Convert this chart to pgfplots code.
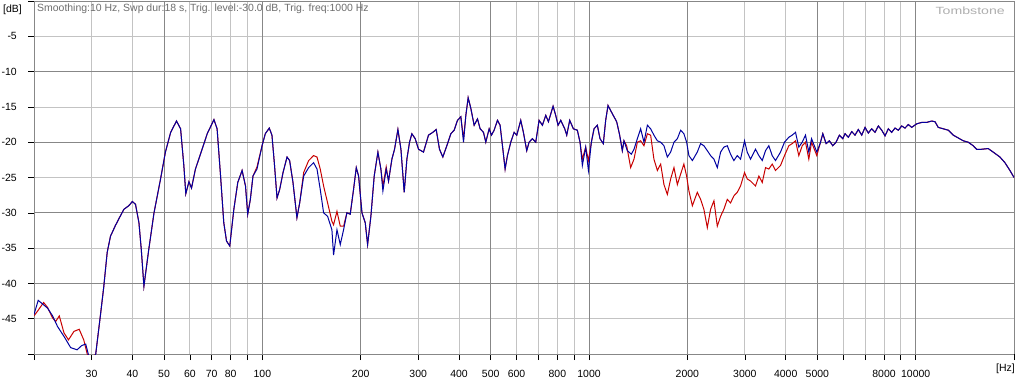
\documentclass[border=0pt]{standalone}
\usepackage{pgfplots}
\pgfplotsset{compat=1.18}
\usepackage{fontspec}
\setmainfont{Liberation Sans}
\definecolor{cred}{RGB}{200,0,0}
\definecolor{cblue}{RGB}{0,0,160}
\definecolor{gmaj}{RGB}{135,135,135}
\definecolor{gmin}{RGB}{195,195,195}
\begin{document}
\begin{tikzpicture}[x=1bp,y=1bp]
\useasboundingbox (0,0) rectangle (1016,385);
\fill[white] (0,0) rectangle (1016,385);
\begin{axis}[
  at={(34bp,31bp)}, anchor=south west,
  scale only axis, width=980bp, height=353bp,
  xmode=log, xmin=20, xmax=20000, ymin=-50, ymax=0,
  axis line style={black, line width=0.8bp},
  tick align=outside, xtick pos=bottom, ytick pos=left,
  major tick length=6bp,
  tick style={black, line width=0.6bp},
  grid=major,
  major grid style={gmin, line width=0.8bp},
  xtick={30,40,60,70,80,90,300,400,600,700,800,900,3000,4000,6000,7000,8000,9000},
  xticklabels={30,40,60,70,80,,300,400,600,,800,,3000,4000,,,8000,},
  extra x ticks={20,50,100,200,500,1000,2000,5000,10000,20000},
  extra x tick labels={,50,100,200,500,1000,2000,5000,10000,},
  extra x tick style={grid=major, major grid style={gmaj, line width=0.8bp}},
  ytick={-45,-35,-25,-15,-5},
  yticklabels={-45,-35,-25,-15,-5},
  extra y ticks={-50,-40,-30,-20,-10,0},
  extra y tick labels={,-40,-30,-20,-10,},
  extra y tick style={grid=major, major grid style={gmaj, line width=0.8bp}},
  xticklabel style={font=\fontsize{10.5}{12}\selectfont, anchor=base, inner sep=0pt, yshift=-17bp},
  yticklabel style={font=\fontsize{10.5}{12}\selectfont, anchor=east, inner sep=0pt, xshift=-11bp},
  clip=true,
]
\addplot[cred, line width=1bp] coordinates {
(20,-44.6)(20.6,-43.8)(21.4,-42.7)(22.0,-43.4)(22.8,-44.9)(23.3,-45.4)(23.9,-44.6)(24.7,-47)(25.5,-48)(26.5,-46.8)(27.5,-46.5)(28.4,-48)(29.1,-50)(29.6,-51)(30.9,-50)
(32.0,-44.2)(32.7,-40.5)(33.5,-35.6)(34.3,-33.3)(35.5,-31.8)(36.8,-30.4)(37.7,-29.5)(39.0,-29)(40.0,-28.4)(40.9,-28.8)(41.9,-31.4)(42.6,-35.2)(43.4,-40.4)(44.9,-35.2)(46.6,-30)(48.8,-25.2)(50.5,-21.4)(52.4,-18.6)(54.6,-17)(56.2,-18.1)(57.5,-23.3)(58.3,-27.3)(59.6,-25.6)(60.7,-26.5)(62.4,-23.8)(65.4,-21)(67.8,-18.8)(71.1,-16.8)(72.7,-18.1)(74.5,-24.8)(76.2,-31.4)(77.7,-34)(79.5,-34.7)(81.8,-29.5)(84.1,-25.7)(86.7,-24)(88.8,-26.2)(90.2,-30.2)(91.9,-28.1)(93.6,-24.8)(96.3,-23.5)(99.8,-20.5)(102.1,-18.8)(105.0,-18)(107.0,-19)(108.8,-22.9)(110.9,-27.9)(113.0,-26.7)(115.7,-24.3)(119.0,-22.1)(121.2,-22.6)(124.1,-25.7)(127.6,-30.7)
(130.1,-28.6)(133.8,-24.3)(138.6,-22.6)(143.5,-21.9)(147.0,-22.1)(150.4,-23.8)(154.0,-26.2)(158.4,-28.6)(163.3,-31.2)(165.2,-31.7)(169.2,-29.8)(173.2,-31.9)(177.3,-31.9)(181.5,-30)
(185.8,-30.2)(190.2,-26.7)(193.9,-23.6)(197.1,-24.8)(201.8,-30)(206.5,-31.4)(210.0,-34.5)(214.9,-30.5)(220.0,-24.8)(225.8,-21.4)(230.6,-23.8)(233.9,-26.2)(239.4,-23.5)(243.4,-25.5)(249.2,-22.4)(253.9,-21)(260.0,-18.2)(265.6,-21)(271.8,-27.1)(277.0,-22.4)(282.2,-20)(286.9,-18.8)(293.7,-19.5)(300.7,-21)(311.4,-21.4)(322.6,-19)(332.6,-18.6)(340.5,-18.2)(348.6,-21)(356.9,-22.1)(369,-20.2)(377.6,-18.8)(386.6,-18.3)(395.8,-16.9)(405.2,-16.4)(412.9,-19.5)(419.7,-16.2)(426.6,-13.7)(434.7,-15.2)(445,-17.6)(455.6,-16.7)(464.2,-18.1)(475.2,-18.6)(483.1,-20)(494.6,-18.1)(502.8,-19)(512.3,-18.3)(524.5,-16.9)(534.3,-17.6)(543.3,-20.5)(553.5,-23.8)(562.7,-21.9)(576.1,-20)(589.8,-18.6)(601,-19)(618,-16.9)(629.7,-18.6)(644.7,-21.2)(655.4,-20)(671,-19.5)(687,-20)(703.4,-16.9)(720.1,-17.6)(737.3,-16.2)(751.3,-17.1)(776.2,-14.9)(790.9,-16.2)(803.9,-17.6)(819.3,-16.9)(842.6,-18.1)(854.6,-19)(872.8,-16.9)(895.6,-18.1)(921,-18.3)(938.6,-20)(954.1,-22.4)(976.8,-20.7)(995.8,-22.6)(1016.7,-20)(1036,-18.1)(1060.5,-17.6)(1080.5,-19.5)(1106,-20.2)(1124.6,-16.9)(1143.2,-14.8)(1170.4,-15.7)(1192.6,-16.4)(1215.2,-17.1)(1241.1,-19)(1264.6,-21.2)
(1279.4,-19.8)(1304,-20.5)(1341,-23.6)(1373,-22.4)(1406,-20)(1439,-19.8)(1473,-20.5)(1509,-18.8)(1544,-19)(1580,-22.4)(1619,-24)(1657,-23.1)(1696,-26)(1737,-27.4)(1778,-25.2)(1820,-23.6)(1864,-26)(1908,-24.5)(1952,-23.1)(1990,-24.8)(2022,-26.9)(2072,-29)(2145,-27.1)(2196,-28.1)(2247,-29.5)(2302,-32.1)(2356,-29.5)(2412,-28.3)(2470,-31.9)(2528,-30.5)(2587,-29.5)(2650,-28.1)(2712,-28.6)(2776,-27.6)(2843,-27.1)(2910,-26.2)(2993,-24.3)(3050,-25.2)(3122,-25.5)(3234,-26.2)(3311,-24.8)(3391,-25.7)(3470,-23.6)(3552,-23.8)(3638,-23.1)(3723,-24)(3857,-23.3)(3967,-21.9)(4089,-20.5)(4188,-20.2)(4287,-19.8)(4387,-21.9)(4494,-20.5)(4599,-20)(4708,-22.4)(4800,-20)(4981,-21.9)
(5098,-20.2)(5196,-18.8)(5318,-20.2)(5443,-19.8)(5575,-20.5)(5706,-20)(5840,-19)(5981,-19.5)(6078,-18.8)(6221,-19.3)(6371,-18.5)(6521,-19)(6674,-18.2)(6836,-19)(6998,-17.9)(7161,-18.7)(7335,-18.1)(7508,-18.6)(7685,-17.7)(7871,-18.3)(8056,-19.1)(8245,-18.1)(8445,-18.6)(8643,-18)(8847,-18.3)(9061,-17.7)(9274,-18)(9493,-17.5)(9722,-17.9)(10070,-17.4)(10430,-17.2)(10800,-17.2)(11190,-17)(11460,-17.1)(11720,-17.9)(12140,-18.1)(12580,-18.3)(13030,-19)(13500,-19.4)(13980,-19.8)(14480,-20)(15000,-20.5)(15360,-21)(15910,-21)(16670,-20.9)(17270,-21.4)(18110,-22.1)(18760,-22.9)(19430,-24)(20000,-25)
};
\addplot[cblue, line width=1bp] coordinates {
(20,-44.4)(20.6,-42.4)(22.0,-43.5)(22.8,-44.6)(23.6,-46.1)(24.7,-47.5)(25.9,-49.1)(27.1,-49.4)(28.0,-48.8)(28.8,-48.6)(29.5,-50.5)(30.2,-51)(30.9,-50)
(32.0,-44.2)(32.7,-40.5)(33.5,-35.6)(34.3,-33.3)(35.5,-31.8)(36.8,-30.4)(37.7,-29.5)(39.0,-29)(40.0,-28.4)(40.9,-28.8)(41.9,-31.4)(42.6,-35.2)(43.4,-40.4)(44.9,-35.2)(46.6,-30)(48.8,-25.2)(50.5,-21.4)(52.4,-18.6)(54.6,-17)(56.2,-18.1)(57.5,-23.3)(58.3,-27.3)(59.6,-25.6)(60.7,-26.5)(62.4,-23.8)(65.4,-21)(67.8,-18.8)(71.1,-16.8)(72.7,-18.1)(74.5,-24.8)(76.2,-31.4)(77.7,-34)(79.5,-34.7)(81.8,-29.5)(84.1,-25.7)(86.7,-24)(88.8,-26.2)(90.2,-30.2)(91.9,-28.1)(93.6,-24.8)(96.3,-23.8)(99.8,-20.5)(102.1,-18.8)(105.0,-18)(107.0,-19)(108.8,-22.9)(110.9,-27.9)(113.0,-26.7)(115.7,-24.3)(119.0,-22.1)(121.2,-22.6)(124.1,-25.7)(127.6,-30.7)
(130.1,-28.6)(133.8,-24.8)(138.6,-23.6)(143.5,-22.9)(147.0,-23.8)(150.4,-26.7)(154.0,-30)(158.4,-30.5)(163.3,-32.4)(165.2,-36)(169.2,-32.4)(173.2,-34.5)(177.3,-32.4)(181.5,-30)
(185.8,-30.2)(190.2,-26.7)(193.9,-23.6)(197.1,-24.8)(201.8,-30)(206.5,-31.4)(210.0,-34.5)(214.9,-30.5)(220.0,-24.8)(225.8,-21.4)(230.6,-23.8)(233.9,-26.9)(239.4,-23.8)(243.4,-25.5)(249.2,-22.4)(253.9,-21)(260.0,-18.2)(265.6,-21)(271.8,-27.1)(277.0,-22.4)(282.2,-20)(286.9,-18.8)(293.7,-19.5)(300.7,-21)(311.4,-21.4)(322.6,-19)(332.6,-18.6)(340.5,-18.2)(348.6,-21)(356.9,-22.1)(369,-20.2)(377.6,-18.8)(386.6,-18.3)(395.8,-16.9)(405.2,-16.4)(412.9,-20)(419.7,-16.2)(426.6,-13.7)(434.7,-15.2)(445,-17.6)(455.6,-16.7)(464.2,-18.1)(475.2,-18.6)(483.1,-20)(494.6,-18.1)(502.8,-19)(512.3,-18.3)(524.5,-16.9)(534.3,-17.6)(543.3,-20.5)(553.5,-23.8)(562.7,-21.9)(576.1,-20)(589.8,-18.6)(601,-19)(618,-16.9)(629.7,-18.6)(644.7,-21.2)(655.4,-20)(671,-19.5)(687,-20)(703.4,-16.9)(720.1,-17.6)(737.3,-16.2)(751.3,-17.1)(776.2,-14.9)(790.9,-16.2)(803.9,-17.6)(819.3,-16.9)(842.6,-18.1)(854.6,-19)(872.8,-16.9)(895.6,-18.1)(921,-18.3)(938.6,-20)(954.1,-23.3)(976.8,-20.7)(995.8,-24)(1016.7,-20)(1036,-18.1)(1060.5,-17.6)(1080.5,-19.5)(1106,-20.2)(1124.6,-16.9)(1143.2,-14.8)(1170.4,-15.7)(1192.6,-16.4)(1215.2,-17.1)(1241.1,-19)(1264.6,-21.2)
(1279.4,-19.8)(1310,-21.2)(1348,-21.7)(1373,-21)(1406,-19.5)(1439,-18.1)(1473,-20)(1509,-17.6)(1544,-18.1)(1580,-19)(1619,-19.8)(1657,-20)(1696,-20.5)(1737,-22.1)(1778,-21.4)(1820,-20)(1864,-19.5)(1908,-18.3)(1952,-18.8)(1990,-20)(2022,-21.9)(2072,-22.6)(2145,-21.4)(2196,-20.2)(2247,-20.5)(2302,-21.2)(2356,-21.9)(2412,-22.4)(2470,-23.6)(2528,-21.4)(2587,-20.7)(2650,-20.5)(2712,-21.7)(2776,-22.6)(2843,-21.9)(2910,-22.4)(2993,-19.8)(3050,-21.4)(3122,-22.4)(3234,-21)(3311,-21.9)(3391,-22.6)(3470,-21.2)(3552,-20.5)(3638,-21.9)(3723,-22.6)(3857,-21.4)(3967,-20)(4089,-19.3)(4188,-19)(4287,-18.6)(4387,-20.7)(4494,-20)(4599,-19)(4708,-21.4)(4800,-19.5)(4981,-21.4)
(5098,-20.2)(5196,-18.8)(5318,-20.2)(5443,-19.8)(5575,-20.5)(5706,-20)(5840,-19)(5981,-19.5)(6078,-18.8)(6221,-19.3)(6371,-18.5)(6521,-19)(6674,-18.2)(6836,-19)(6998,-17.9)(7161,-18.7)(7335,-18.1)(7508,-18.6)(7685,-17.7)(7871,-18.3)(8056,-19.1)(8245,-18.1)(8445,-18.6)(8643,-18)(8847,-18.3)(9061,-17.7)(9274,-18)(9493,-17.5)(9722,-17.9)(10070,-17.4)(10430,-17.2)(10800,-17.2)(11190,-17)(11460,-17.1)(11720,-17.9)(12140,-18.1)(12580,-18.3)(13030,-19)(13500,-19.4)(13980,-19.8)(14480,-20)(15000,-20.5)(15360,-21)(15910,-21)(16670,-20.9)(17270,-21.4)(18110,-22.1)(18760,-22.9)(19430,-24)(20000,-25)
};
\end{axis}
\node[anchor=base west, inner sep=0pt, text={rgb,255:red,110;green,110;blue,110}, font=\fontsize{10.5}{12}\selectfont] at (37,373.5) {Smoothing:10 Hz, Swp dur:18 s, Trig. level:-30.0 dB, Trig. freq:1000 Hz};
\node[anchor=base east, inner sep=0pt, xscale=1.35, text={rgb,255:red,175;green,175;blue,175}, font=\fontsize{10.5}{12}\selectfont] at (1005,371) {Tombstone};
\node[anchor=base west, inner sep=0pt, font=\fontsize{10.5}{12}\selectfont] at (3,373) {[dB]};
\node[anchor=base east, inner sep=0pt, font=\fontsize{10.5}{12}\selectfont] at (1015,14) {[Hz]};
\end{tikzpicture}
\end{document}
